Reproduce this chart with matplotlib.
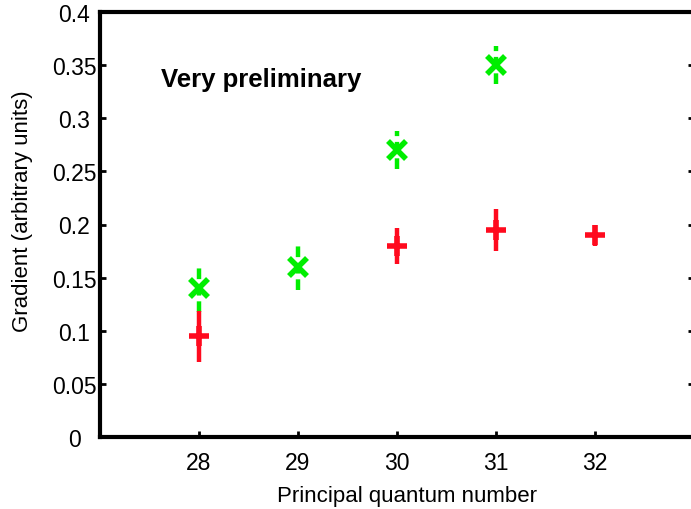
import matplotlib
matplotlib.use("Agg")
import matplotlib.pyplot as plt

plt.rcParams['font.family'] = ['Liberation Sans', 'DejaVu Sans']

# Data
green_n = [28, 29, 30, 31]
green_val = [0.140, 0.160, 0.270, 0.350]
green_err = [0.022, 0.022, 0.018, 0.018]

red_n = [28, 30, 31, 32]
red_val = [0.095, 0.180, 0.195, 0.190]
red_err = [0.024, 0.017, 0.020, 0.010]

xticks = [28, 29, 30, 31, 32]
yticks = [0, 0.05, 0.1, 0.15, 0.2, 0.25, 0.3, 0.35, 0.4]
ytick_labels = ['0', '0.05', '0.1', '0.15', '0.2', '0.25', '0.3', '0.35', '0.4']

fig = plt.figure(figsize=(6.91, 5.10), dpi=100)
ax = fig.add_axes([100/691, 1-438/510, 594/691, 425/510])

green = '#00ee00'
red = '#ff0a1e'

eb = ax.errorbar(green_n, green_val, yerr=green_err, fmt='none', ecolor=green,
                 elinewidth=3.2, capsize=0, zorder=2)
eb[2][0].set_linestyle((0, (2.4, 1.3)))
ax.plot(green_n, green_val, 'x', color=green, markersize=13.5, mew=4, zorder=3)

ax.errorbar(red_n, red_val, yerr=red_err, fmt='none', ecolor=red,
            elinewidth=3.2, capsize=0, zorder=2)
ax.plot(red_n, red_val, '+', color=red, markersize=14.5, mew=4, zorder=3)

ax.set_xlim(27, 33)
ax.set_ylim(0, 0.4)
ax.set_xticks(xticks)
ax.set_xticklabels([str(v) for v in xticks])
ax.set_yticks(yticks)
ax.set_yticklabels(ytick_labels, ha='center')

for s in ax.spines.values():
    s.set_linewidth(3)
ax.tick_params(direction='in', length=4, width=2, labelsize=16.5,
               top=False, right=True)
ax.tick_params(axis='x', pad=10)
ax.tick_params(axis='y', pad=18.7)

ax.set_xlabel('Principal quantum number', fontsize=16)
ax.set_ylabel('Gradient (arbitrary units)', fontsize=16)
ax.xaxis.set_label_coords(0.517, -0.112)
ax.yaxis.set_label_coords(-0.1135, 0.534)

ax.text(27.62, 0.337, 'Very preliminary', fontsize=18.5, fontweight='bold',
        va='center', ha='left')

fig.savefig('out.png', dpi=100)
